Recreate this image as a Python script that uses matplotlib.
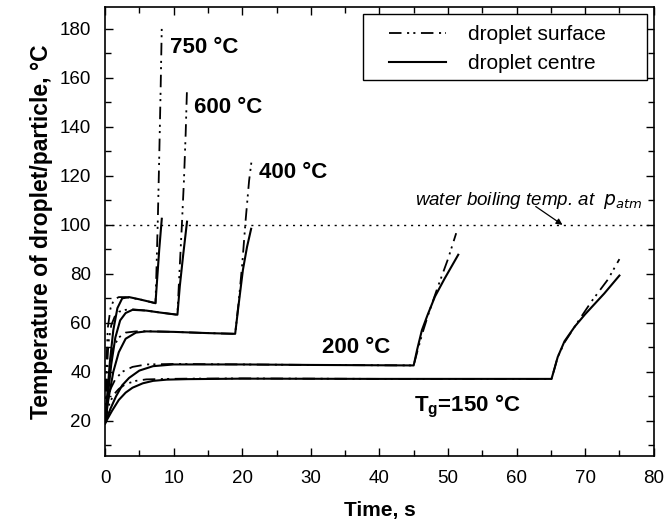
#!/usr/bin/env python3

"""
Droplet surface / centre temperature vs. time for several gas temperatures.
"""

import matplotlib
matplotlib.use("Agg")
import matplotlib.pyplot as plt
from matplotlib.patches import Rectangle

plt.rcParams["font.family"] = ["Liberation Sans", "DejaVu Sans"]
plt.rcParams["lines.scale_dashes"] = False

# gas temperatures (labels)
gas_labels = ["750 °C", "600 °C", "400 °C", "200 °C", "T$_\\mathregular{g}$=150 °C"]

# droplet centre (solid)
t_c750 = [0, 0.3, 0.7, 1.2, 1.8, 2.5, 3.5, 5, 6.5, 7.35, 7.6, 7.9, 8.27]
T_c750 = [19, 30, 44, 57, 66, 70, 70.5, 69.6, 68.6, 68, 78, 90, 102.5]
t_c600 = [0, 0.4, 0.9, 1.5, 2.2, 3, 4, 6, 8, 10.55, 10.9, 11.4, 11.95]
T_c600 = [19, 30, 43, 54, 61, 64, 65.3, 65, 64.2, 63.3, 75, 88, 101.3]
t_c400 = [0, 0.5, 1.2, 2, 3, 4.5, 6, 10, 15, 18.97, 19.5, 20.1, 20.7, 21.3]
T_c400 = [19, 29, 40, 48, 53.5, 56, 56.5, 56.3, 55.8, 55.5, 68, 81.6, 91, 98.4]
t_c200 = [0, 0.8, 1.6, 2.5, 3.5, 5, 7, 10, 20, 30, 45, 45.5, 46.2, 47, 48.1, 49.5, 51.5]
T_c200 = [19, 25, 30, 34.5, 37.5, 40.5, 42.3, 43, 43, 42.8, 42.6, 49, 57, 63, 70.7, 78, 87.8]
t_c150 = [0, 1, 2, 3, 4, 5.5, 7, 9, 12, 20, 40, 65.1, 65.5, 66, 67, 68.5, 70, 72.8, 75]
T_c150 = [19, 24, 28.5, 31.5, 33.5, 35.3, 36.3, 36.8, 37, 37.2, 37.1, 37.1, 41, 46, 52.5, 58.5, 63.5, 72, 79.3]

# droplet surface (dash-dot-dot)
t_s750 = [0, 0.15, 0.4, 0.8, 1.3, 2, 3, 5, 6.5, 7.35, 7.5, 7.7, 7.9, 8.1, 8.27]
T_s750 = [19, 40, 58, 66, 69.5, 70.5, 70.5, 69.6, 68.6, 68, 82, 103, 128, 155, 181]
t_s600 = [0, 0.2, 0.5, 0.9, 1.4, 2, 3, 4, 6, 8, 10.55, 10.8, 11.2, 11.5, 11.75, 11.95]
T_s600 = [19, 38, 52, 59, 62.5, 64.5, 65.3, 65.5, 65, 64.2, 63.3, 78, 100, 118, 137, 156]
t_s400 = [0, 0.3, 0.7, 1.2, 2, 3, 4.5, 6, 10, 15, 18.97, 19.5, 20.0, 20.5, 21.0, 21.4]
T_s400 = [19, 33, 44, 50, 54, 56, 56.5, 56.6, 56.3, 55.8, 55.5, 69, 84, 102, 118, 127]
t_s200 = [0, 0.3, 0.8, 1.5, 2.5, 4, 6, 10, 20, 30, 45, 45.6, 46.3, 47.2, 48.5, 50, 51.2]
T_s200 = [19, 27, 33, 37, 40, 42, 43, 43.2, 43, 42.8, 42.6, 49, 56, 64, 74.5, 86, 96.6]
t_s150 = [0, 0.5, 1.2, 2, 3, 4.5, 6, 9, 12, 20, 40, 65.1, 65.5, 66, 67, 69.2, 71, 73.3, 75]
T_s150 = [19, 26, 30.5, 33, 35, 36.3, 36.9, 37.1, 37.2, 37.3, 37.1, 37.1, 41, 46, 52, 61.5, 69, 77.6, 86]

centre = [(t_c750, T_c750), (t_c600, T_c600), (t_c400, T_c400), (t_c200, T_c200), (t_c150, T_c150)]
surface = [(t_s750, T_s750), (t_s600, T_s600), (t_s400, T_s400), (t_s200, T_s200), (t_s150, T_s150)]

# label anchor points (data coords)
label_x = [9.4, 13.0, 22.4, 31.6, 45.0]
label_y = [172.5, 148.0, 121.5, 50.0, 26.0]

fig = plt.figure(figsize=(6.65, 5.3), dpi=100)
ax = fig.add_axes([0.158, 0.140, 0.825, 0.847])

dashdotdot = (0, (9, 4, 1.5, 3, 1.5, 4))
for i, ((ts, Ts), (tc, Tc)) in enumerate(zip(surface, centre)):
    ax.plot(ts, Ts, color="black", lw=1.3, linestyle=dashdotdot,
            label="droplet surface" if i == 0 else None)
    ax.plot(tc, Tc, color="black", lw=1.5,
            label="droplet centre" if i == 0 else None)

# boiling line
ax.axhline(100, color="black", lw=1.0, linestyle=(0, (1.5, 3.5)))
ax.text(45.2, 110, "water boiling temp. at  $p_{atm}$", style="italic",
        fontsize=13.5, ha="left", va="center")
ax.annotate("", xy=(66.7, 100), xytext=(62.8, 107.5),
            arrowprops=dict(arrowstyle="-|>", color="black", lw=0.9,
                            mutation_scale=9, shrinkA=0, shrinkB=0))

for lab, x, y in zip(gas_labels, label_x, label_y):
    ax.text(x, y, lab, fontsize=16, fontweight="bold", ha="left", va="center")

ax.set_xlim(0, 80)
ax.set_ylim(5.7, 189)
ax.set_xticks(range(0, 81, 10))
ax.set_xticks(range(5, 80, 10), minor=True)
ax.set_yticks(range(20, 181, 20))
ax.set_yticks(range(10, 190, 20), minor=True)
ax.tick_params(which="both", direction="in", top=True, right=True,
               labelsize=13.5, width=1.0)
ax.tick_params(which="major", length=6, pad=10)
ax.tick_params(which="minor", length=4)
for sp in ax.spines.values():
    sp.set_linewidth(1.2)

ax.set_xlabel("Time, s", fontsize=15, fontweight="bold", labelpad=10)
ax.set_ylabel("Temperature of droplet/particle, °C", fontsize=16.5,
              fontweight="bold", labelpad=5)

# legend box drawn separately so it can be wider than its contents
ax.add_patch(Rectangle((0.470, 0.837), 0.518, 0.147, transform=ax.transAxes,
                       facecolor="white", edgecolor="black", lw=1.0, zorder=4))
leg = ax.legend(loc="upper left", bbox_to_anchor=(0.518, 0.960), fontsize=15,
                handlelength=2.7, frameon=False, borderpad=0,
                handletextpad=1.1, borderaxespad=0, labelspacing=0.5)
leg.set_zorder(5)

fig.savefig("out.png", dpi=100)
